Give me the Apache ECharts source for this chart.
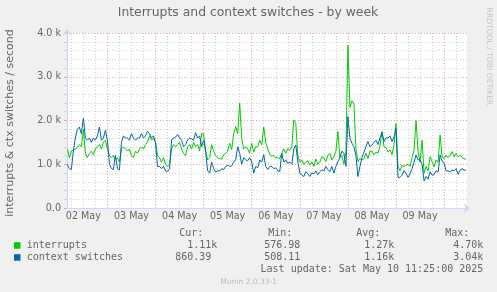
<!DOCTYPE html>
<html><head><meta charset="utf-8">
<script src="https://cdn.jsdelivr.net/npm/echarts@6/dist/echarts.min.js"></script>
<style>html,body{margin:0;padding:0;background:#f0f0f0;}#c{width:497px;height:292px;}</style>
</head><body><div id="c"></div>
<script>
// ---- data (values in thousands per second, one sample per hour; hour 0 = 02 May 00:00) ----
const chartTitle = 'Interrupts and context switches - by week';
const yAxisTitle = 'interrupts & ctx switches / second';
const watermark = 'RRDTOOL / TOBI OETIKER';
const footer = 'Munin 2.0.33-1';
const firstHour = 4;
const xMinHour = 3.83;
const xMaxHour = 203.42;
const interrupts = [
  1.35,1.15,1.3,1.32,1.35,1.38,1.45,1.4,1.8,1.25,1.15,1.25,1.3,1.22,1.35,1.4,1.45,1.35,1.5,1.55,
  1.35,1.2,1.15,1.2,1.1,1.15,1.05,1.35,1.4,1.35,1.3,1.35,1.2,1.15,1.3,1.25,1.35,1.4,1.35,1.45,1.5,1.65,1.55,1.6,
  1.5,1.2,1.15,1.05,1.15,1.0,0.95,1.0,1.35,1.45,1.4,1.45,1.5,1.35,1.25,1.2,1.4,1.45,1.35,1.5,1.4,1.45,1.3,1.7,
  1.7,1.3,1.1,1.15,1.45,1.3,1.2,1.15,1.13,1.12,1.22,1.25,1.3,1.48,1.33,1.7,1.86,1.7,2.39,1.6,1.35,1.4,1.35,1.25,
  1.48,1.28,1.4,1.4,1.55,1.45,1.85,1.5,1.35,1.22,1.18,1.2,1.15,1.15,1.13,1.25,1.35,1.25,1.36,1.32,1.4,2.01,1.93,1.2,
  1.05,1.1,1.0,1.05,1.08,0.98,1.05,0.95,1.12,1.0,1.05,1.17,1.15,1.06,1.2,1.25,1.1,1.17,1.3,1.75,1.15,1.2,1.0,1.29,
  3.72,2.3,2.45,2.38,1.36,1.06,1.13,1.1,1.13,1.25,1.13,1.3,1.3,1.22,1.28,1.25,1.42,1.74,1.4,1.38,1.28,1.33,1.22,1.45,
  1.93,0.95,0.85,0.97,0.95,0.98,1.0,0.95,1.15,1.33,2.0,1.3,1.05,1.55,0.8,0.95,0.85,1.17,1.06,0.94,1.1,1.05,1.67,1.17,
  1.13,1.21,1.15,1.2,1.29,1.17,1.25,1.17,1.21,1.15,1.13,1.11
];
const contextSwitches = [
  1.0,0.9,0.88,1.3,1.6,1.8,1.85,1.7,2.05,1.6,1.55,1.6,1.5,1.6,1.55,1.65,1.85,1.55,1.6,1.78,
  1.55,1.0,0.9,0.88,1.2,0.9,0.87,1.5,1.65,1.6,1.6,1.55,1.7,1.6,1.55,1.6,1.6,1.7,1.6,1.65,1.75,1.7,1.6,1.65,
  1.5,0.95,0.95,0.9,0.95,0.85,0.83,0.9,1.55,1.6,1.62,1.68,1.6,1.55,1.4,1.45,1.55,1.6,1.58,1.55,1.72,1.6,1.65,1.4,
  1.55,1.3,0.85,0.8,1.05,0.9,0.82,0.85,0.85,0.9,0.88,0.95,0.98,0.95,0.96,1.05,1.1,1.4,1.25,1.0,1.15,1.1,1.08,1.15,
  1.05,0.8,0.95,0.92,1.1,1.05,1.22,0.95,0.88,0.95,0.95,0.9,0.92,0.85,0.83,1.25,1.05,1.1,1.02,1.05,1.0,1.35,1.44,1.06,
  0.8,0.75,0.72,0.83,0.78,0.72,0.8,0.78,0.85,0.76,0.83,0.87,0.85,0.95,0.88,0.83,0.95,0.8,0.95,1.06,1.15,1.3,1.25,0.95,
  2.09,1.6,1.48,1.4,1.2,0.72,0.95,1.15,1.28,1.4,1.52,1.4,1.44,1.5,1.55,1.45,1.6,1.74,1.52,1.6,1.6,1.65,1.52,1.62,
  1.82,0.7,0.7,0.75,0.85,0.79,0.7,0.78,0.9,1.05,1.21,1.1,1.1,1.0,0.62,0.72,0.66,0.83,0.75,0.76,0.85,0.82,1.21,1.08,
  1.02,0.85,0.85,0.82,0.87,0.85,0.9,0.77,0.87,0.9,0.87,0.86
];
const dayLabels = ['02 May','03 May','04 May','05 May','06 May','07 May','08 May','09 May'];
const dayLabelHours = [12,36,60,84,108,132,156,180];
const seriesNames = ['interrupts','context switches'];
const seriesColors = ['#00cc00','#0066b3'];
const statHeaders = ['Cur:','Min:','Avg:','Max:'];
const interruptStats = ['1.11k','576.98','1.27k','4.70k'];
const contextStats = ['860.39','508.11','1.16k','3.04k'];
const lastUpdate = 'Last update: Sat May 10 11:25:00 2025';

// ---- styling ----
const minorColor = '#d2d2d2';
const majorColor = '#eba3a3';
const axisColor = '#cfd6f8';
const fontColor = '#666666';
const sans = 'DejaVu Sans';
const mono = 'DejaVu Sans Mono';

const gridLines = [];
for (let h = 6; h < xMaxHour; h += 6) {
  gridLines.push({xAxis: h, lineStyle: {color: h % 24 === 0 ? majorColor : minorColor, type: [1, 2], width: 1}});
}

function pairs(arr) { return arr.map((v, i) => [firstHour + i, v]); }

const graphics = [];
graphics.push({type: 'text', x: 248, y: 13, style: {text: chartTitle, font: '12.4px "' + sans + '"', fill: fontColor, align: 'center', verticalAlign: 'middle'}});
graphics.push({type: 'text', x: 10, y: 123, rotation: Math.PI / 2, style: {text: yAxisTitle, font: '11px "' + sans + '"', fill: fontColor, align: 'center', verticalAlign: 'middle'}});
graphics.push({type: 'text', x: 488.5, y: 56.5, rotation: -Math.PI / 2, style: {text: watermark, font: '7.6px "' + sans + '"', fill: '#c4c4c4', align: 'center', verticalAlign: 'middle'}});
graphics.push({type: 'text', x: 248.7, y: 281.7, style: {text: footer, font: '7.5px "' + sans + '"', fill: '#bbbbbb', align: 'center', verticalAlign: 'middle'}});
const colEnds = [217.3, 306.3, 394.3, 483.3];
const rowYs = [245.7, 257.7];
statHeaders.forEach((h, i) => graphics.push({type: 'text', x: colEnds[i] - 14, y: 233.3, style: {text: h, font: '10px "' + mono + '"', fill: fontColor, align: 'right', verticalAlign: 'middle'}}));
[interruptStats, contextStats].forEach((row, r) => {
  graphics.push({type: 'rect', shape: {x: 14, y: rowYs[r] - 3.5, width: 6.5, height: 6.5}, style: {fill: seriesColors[r]}});
  graphics.push({type: 'text', x: 26.7, y: rowYs[r], style: {text: seriesNames[r], font: '10px "' + mono + '"', fill: fontColor, align: 'left', verticalAlign: 'middle'}});
  row.forEach((s, i) => {
    const endsWithDigit = /[0-9]$/.test(s);
    graphics.push({type: 'text', x: colEnds[i] - (endsWithDigit ? 6.02 : 0), y: rowYs[r], style: {text: s, font: '10px "' + mono + '"', fill: fontColor, align: 'right', verticalAlign: 'middle'}});
  });
});
graphics.push({type: 'text', x: 483.3, y: 269.3, style: {text: lastUpdate, font: '10px "' + mono + '"', fill: fontColor, align: 'right', verticalAlign: 'middle'}});

const chart = echarts.init(document.getElementById('c'), null, {renderer: 'canvas'});
chart.setOption({
  animation: false,
  backgroundColor: '#f0f0f0',
  grid: {left: 67, top: 33, width: 400, height: 175, show: true, backgroundColor: '#ffffff', borderWidth: 0},
  xAxis: {
    type: 'value', min: xMinHour, max: xMaxHour,
    axisLine: {show: true, lineStyle: {color: axisColor}, symbol: ['none', 'arrow'], symbolSize: [7, 6], symbolOffset: [0, 3]},
    axisTick: {show: false},
    splitLine: {show: false},
    axisLabel: {customValues: dayLabelHours, formatter: v => dayLabels[dayLabelHours.indexOf(v)], fontSize: 9.6, fontFamily: sans, color: fontColor, margin: 3}
  },
  yAxis: {
    type: 'value', min: 0, max: 4, interval: 1,
    axisLine: {show: true, lineStyle: {color: axisColor}, symbol: ['none', 'arrow'], symbolSize: [7, 6], symbolOffset: [0, 4]},
    axisTick: {show: true, length: 3, lineStyle: {color: majorColor}},
    minorTick: {show: true, splitNumber: 5, length: 3, lineStyle: {color: minorColor}},
    splitLine: {show: true, lineStyle: {color: majorColor, type: [1, 2]}},
    minorSplitLine: {show: true, lineStyle: {color: minorColor, type: [1, 2]}},
    axisLabel: {formatter: v => v === 0 ? '0.0' : v.toFixed(1) + ' k', fontSize: 9.6, fontFamily: sans, color: fontColor, margin: 6}
  },
  series: [
    {name: seriesNames[0], type: 'line', data: pairs(interrupts), showSymbol: false, symbol: 'none',
     lineStyle: {color: seriesColors[0], width: 1}, itemStyle: {color: seriesColors[0]}, z: 2,
     markLine: {silent: true, symbol: 'none', z: 1, animation: false, label: {show: false}, data: gridLines}},
    {name: seriesNames[1], type: 'line', data: pairs(contextSwitches), showSymbol: false, symbol: 'none',
     lineStyle: {color: seriesColors[1], width: 1}, itemStyle: {color: seriesColors[1]}, z: 3}
  ],
  graphic: graphics
});
</script></body></html>
